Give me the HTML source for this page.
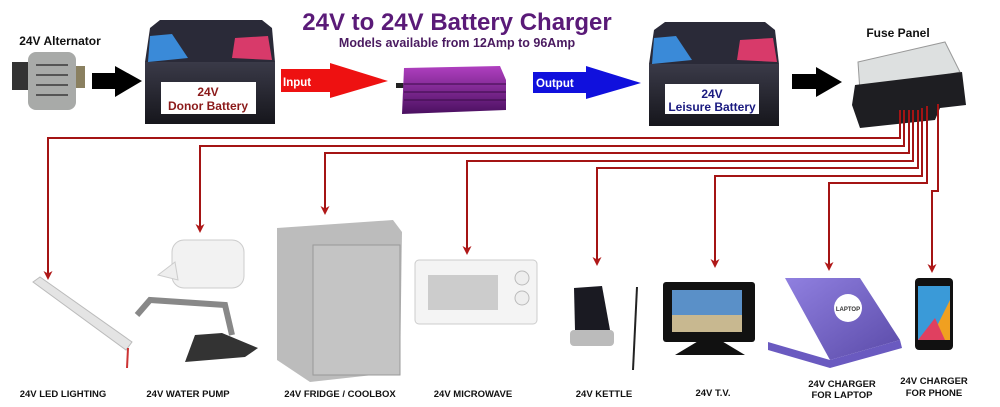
<!DOCTYPE html>
<html><head><meta charset="utf-8"><style>
body{margin:0;background:#fff;}
svg{display:block;font-family:"Liberation Sans",Arial,sans-serif;}
</style></head><body>
<svg width="1000" height="407" viewBox="0 0 1000 407">
<defs>
<marker id="ah" markerWidth="10" markerHeight="10" refX="7" refY="4.5" orient="auto" markerUnits="userSpaceOnUse"><path d="M0,0 L9,4.5 L0,9 L2.5,4.5 Z" fill="#b01818"/></marker>
<linearGradient id="bat" x1="0" y1="0" x2="0" y2="1"><stop offset="0" stop-color="#3a3a48"/><stop offset="1" stop-color="#16161c"/></linearGradient>
<linearGradient id="pur" x1="0" y1="0" x2="0" y2="1"><stop offset="0" stop-color="#b040c0"/><stop offset="1" stop-color="#4a1060"/></linearGradient>
<linearGradient id="lap" x1="0" y1="0" x2="1" y2="1"><stop offset="0" stop-color="#9080e0"/><stop offset="1" stop-color="#5a4aa8"/></linearGradient>
</defs>
<text x="457" y="30" text-anchor="middle" font-size="24" font-weight="bold" fill="#5a1a78">24V to 24V Battery Charger</text>
<text x="457" y="47" text-anchor="middle" font-size="12.5" font-weight="bold" fill="#4a1a60">Models available from 12Amp to 96Amp</text>
<text x="60" y="45" text-anchor="middle" font-size="12" font-weight="bold" fill="#111">24V Alternator</text>
<text x="898" y="37" text-anchor="middle" font-size="12" font-weight="bold" fill="#111">Fuse Panel</text>
<rect x="12" y="62" width="20" height="28" fill="#333"/>
<rect x="28" y="52" width="48" height="58" rx="8" fill="#a8aaa8"/>
<g stroke="#555" stroke-width="2"><line x1="36" y1="65" x2="68" y2="65"/><line x1="36" y1="75" x2="68" y2="75"/><line x1="36" y1="85" x2="68" y2="85"/><line x1="36" y1="95" x2="68" y2="95"/></g>
<rect x="76" y="66" width="9" height="22" fill="#8a8060"/>
<path d="M92,73 L115,73 L115,66 L142,81 L115,97 L115,89 L92,89Z" fill="#000"/>
<path d="M150,28 L160,20 L262,20 L272,28 L275,62 L145,62Z" fill="#2a2a38"/>
<path d="M150,36 L172,34 L188,58 L148,62Z" fill="#3a8ad8"/>
<path d="M235,38 L268,36 L272,60 L232,58Z" fill="#d83a6a"/>
<rect x="145" y="62" width="130" height="62" fill="url(#bat)"/>
<rect x="161" y="82" width="95" height="32" fill="#fff"/>
<text x="208" y="96" text-anchor="middle" font-size="12" font-weight="bold" fill="#8b1a1a">24V</text>
<text x="208" y="110" text-anchor="middle" font-size="12" font-weight="bold" fill="#8b1a1a">Donor Battery</text>
<path d="M281,69 L330,69 L330,63 L388,81 L330,98 L330,92 L281,92Z" fill="#ee1111"/>
<text x="283" y="86" font-size="11.5" font-weight="bold" fill="#fff">Input</text>
<rect x="396" y="83" width="8" height="5" fill="#222"/>
<path d="M404,68 L500,66 L506,80 L506,110 L402,114Z" fill="url(#pur)"/>
<g stroke="#3a0a48" stroke-width="1"><line x1="404" y1="84" x2="506" y2="84"/><line x1="404" y1="92" x2="506" y2="92"/><line x1="404" y1="100" x2="506" y2="100"/></g>
<path d="M533,72 L586,72 L586,66 L641,83 L586,99 L586,93 L533,93Z" fill="#1010dd"/>
<text x="536" y="87" font-size="11.5" font-weight="bold" fill="#fff">Output</text>
<path d="M654,30 L665,22 L765,22 L775,30 L779,64 L649,64Z" fill="#2a2a38"/>
<path d="M654,38 L676,36 L692,60 L652,64Z" fill="#3a8ad8"/>
<path d="M740,40 L773,38 L777,62 L737,60Z" fill="#d83a6a"/>
<rect x="649" y="64" width="130" height="62" fill="url(#bat)"/>
<rect x="665" y="84" width="94" height="30" fill="#fff"/>
<text x="712" y="98" text-anchor="middle" font-size="12" font-weight="bold" fill="#1a1a80">24V</text>
<text x="712" y="111" text-anchor="middle" font-size="12" font-weight="bold" fill="#1a1a80">Leisure Battery</text>
<path d="M792,74 L816,74 L816,67 L842,82 L816,97 L816,89 L792,89Z" fill="#000"/>
<path d="M858,62 L945,42 L960,72 L860,92Z" fill="#dde0e0" stroke="#999"/>
<path d="M855,85 L962,72 L966,105 L940,108 L935,120 L860,128 L852,105Z" fill="#1e1e22"/>
<g fill="none" stroke="#a41414" stroke-width="2">
<path d="M900,110 L900,138 L48,138 L48,278" marker-end="url(#ah)"/>
<path d="M904,110 L904,146 L200,146 L200,231" marker-end="url(#ah)"/>
<path d="M909,110 L909,153 L325,153 L325,213" marker-end="url(#ah)"/>
<path d="M913,110 L913,161 L467,161 L467,253" marker-end="url(#ah)"/>
<path d="M918,110 L918,168 L597,168 L597,264" marker-end="url(#ah)"/>
<path d="M922,108 L922,176 L715,176 L715,266" marker-end="url(#ah)"/>
<path d="M927,106 L927,183 L829,183 L829,269" marker-end="url(#ah)"/>
<path d="M938,104 L938,191 L932,191 L932,271" marker-end="url(#ah)"/>
</g>
<path d="M33,282 L40,277 L132,342 L126,350Z" fill="#e4e4e4" stroke="#bbb"/>
<line x1="128" y1="348" x2="127" y2="368" stroke="#c33" stroke-width="2"/>
<rect x="172" y="240" width="72" height="48" rx="12" fill="#f2f2f2" stroke="#ccc"/>
<path d="M158,275 L175,262 L178,280Z" fill="#eee" stroke="#ccc"/>
<path d="M137,315 L150,300 L225,305 L232,335" fill="none" stroke="#888" stroke-width="6"/>
<path d="M185,362 L245,357 L258,348 L222,333 L195,335Z" fill="#333"/>
<path d="M277,228 L393,220 L402,232 L400,372 L310,382 L277,360Z" fill="#bcbcbc"/>
<rect x="313" y="245" width="87" height="130" fill="#c4c4c4" stroke="#999"/>
<rect x="415" y="260" width="122" height="64" rx="4" fill="#f4f4f4" stroke="#ccc"/>
<rect x="428" y="275" width="70" height="35" fill="#ccc"/>
<circle cx="522" cy="278" r="7" fill="#eee" stroke="#bbb"/><circle cx="522" cy="298" r="7" fill="#eee" stroke="#bbb"/>
<path d="M574,288 L602,286 L610,330 L575,330Z" fill="#1a1a22"/>
<rect x="570" y="330" width="44" height="16" rx="4" fill="#bbb"/>
<line x1="637" y1="287" x2="633" y2="370" stroke="#222" stroke-width="2"/>
<rect x="663" y="282" width="92" height="60" rx="3" fill="#111"/>
<rect x="672" y="290" width="70" height="42" fill="#5a90c8"/>
<rect x="672" y="315" width="70" height="17" fill="#c8b890"/>
<path d="M675,355 L700,340 L720,340 L745,355Z" fill="#111"/>
<path d="M785,278 L860,278 L900,340 L830,360Z" fill="url(#lap)"/>
<path d="M768,342 L830,360 L900,340 L902,348 L830,368 L768,350Z" fill="#6a5ac0"/>
<circle cx="848" cy="308" r="14" fill="#fff"/>
<text x="848" y="311" text-anchor="middle" font-size="6" font-weight="bold" fill="#333">LAPTOP</text>
<rect x="915" y="278" width="38" height="72" rx="4" fill="#111"/>
<rect x="918" y="286" width="32" height="54" fill="#3a9ad8"/>
<path d="M930,340 L950,300 L950,340Z" fill="#f0a020"/>
<path d="M918,340 L935,318 L945,340Z" fill="#e04060"/>
<g font-size="9.5" font-weight="bold" fill="#111" text-anchor="middle">
<text x="63" y="397">24V LED LIGHTING</text>
<text x="188" y="397">24V WATER PUMP</text>
<text x="340" y="397">24V FRIDGE / COOLBOX</text>
<text x="473" y="397">24V MICROWAVE</text>
<text x="604" y="397">24V KETTLE</text>
<text x="713" y="396">24V T.V.</text>
<text x="842" y="387">24V CHARGER</text>
<text x="842" y="398">FOR LAPTOP</text>
<text x="934" y="384">24V CHARGER</text>
<text x="934" y="396">FOR PHONE</text>
</g>
</svg>
</body></html>
